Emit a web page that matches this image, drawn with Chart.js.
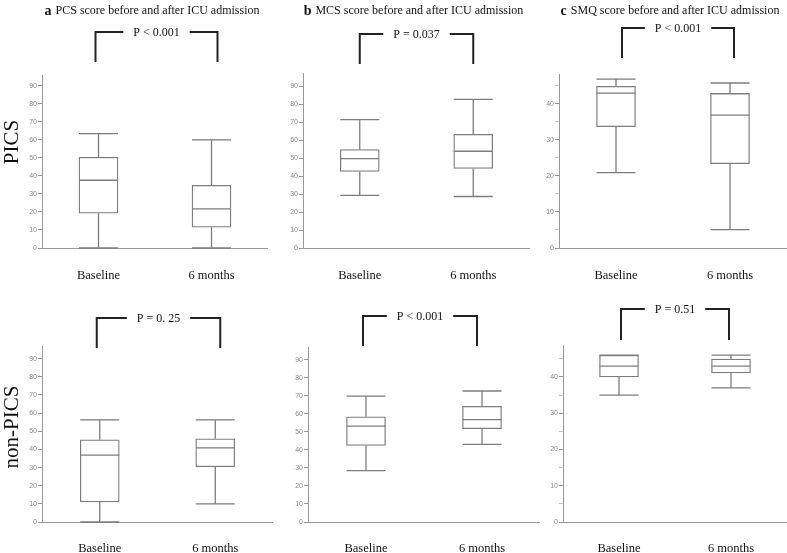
<!DOCTYPE html>
<html lang="en">
<head>
<meta charset="UTF-8">
<title>PCS, MCS and SMQ scores before and after ICU admission</title>
<script src="https://cdn.jsdelivr.net/npm/chart.js"></script>
<style>
    body {
        margin: 0;
        background: #fff;
        width: 787px;
        height: 553px;
        overflow: hidden;
        position: relative;
    }
    .panel {
        position: absolute;
    }
</style>
</head>
<body>
<div class="panel" style="left:0;top:0;width:268px;height:285px"><canvas id="pa"></canvas></div>
<div class="panel" style="left:265px;top:0;width:265px;height:285px"><canvas id="pb"></canvas></div>
<div class="panel" style="left:530px;top:0;width:257px;height:285px"><canvas id="pc"></canvas></div>
<div class="panel" style="left:0;top:275px;width:273px;height:278px"><canvas id="pd"></canvas></div>
<div class="panel" style="left:265px;top:275px;width:275px;height:278px"><canvas id="pe"></canvas></div>
<div class="panel" style="left:530px;top:275px;width:257px;height:278px"><canvas id="pf"></canvas></div>

<script>
// groups on the x axis
const groups = ['Baseline', '6 months'];

// box stats per group: [min, q1, median, q3, max]
const pcsPics    = [[0, 19.3, 37.6, 50.4, 63.5], [0, 11.5, 21.7, 34.8, 60]];
const mcsPics    = [[29.3, 42.6, 49.8, 54.8, 71.5], [28.7, 44.3, 53.9, 63.3, 82.8]];
const smqPics    = [[20.9, 33.7, 43, 44.9, 46.9], [5.1, 23.4, 36.9, 42.9, 45.8]];
const pcsNonPics = [[0, 11.1, 36.9, 45.3, 56.3], [10, 30.4, 40.9, 45.9, 56.3]];
const mcsNonPics = [[28.5, 42.4, 53.1, 58.3, 69.8], [43, 51.7, 56.8, 64.1, 72.6]];
const smqNonPics = [[35, 40, 43, 46, 46], [37, 41.1, 43, 44.9, 46]];

// p values shown above each pair
const pValues = ['P < 0.001', 'P = 0.037', 'P < 0.001', 'P = 0. 25', 'P < 0.001', 'P = 0.51'];

const panelLetters = ['a', 'b', 'c'];
const panelTitles = [
    'PCS score before and after ICU admission',
    'MCS score before and after ICU admission',
    'SMQ score before and after ICU admission'
];
const rowLabels = ['PICS', 'non-PICS'];

const serif = "'Liberation Serif', 'Times New Roman', serif";
const lineGrey = '#7d7d7d';

const boxPlugin = {
    id: 'boxes',
    afterDatasetsDraw(chart, args, opts) {
        const ctx = chart.ctx;
        const y = chart.scales.y;
        const meta = chart.getDatasetMeta(0);
        ctx.save();
        ctx.strokeStyle = lineGrey;
        ctx.lineWidth = 1.3;
        opts.stats.forEach((s, i) => {
            const bar = meta.data[i];
            const x = bar.x;
            const half = bar.width / 2;
            const pMin = y.getPixelForValue(s[0]);
            const pQ1 = y.getPixelForValue(s[1]);
            const pMed = y.getPixelForValue(s[2]);
            const pQ3 = y.getPixelForValue(s[3]);
            const pMax = y.getPixelForValue(s[4]);
            ctx.beginPath();
            ctx.moveTo(x, pQ1); ctx.lineTo(x, pMin);
            ctx.moveTo(x - half, pMin); ctx.lineTo(x + half, pMin);
            ctx.moveTo(x, pQ3); ctx.lineTo(x, pMax);
            ctx.moveTo(x - half, pMax); ctx.lineTo(x + half, pMax);
            ctx.moveTo(x - half, pMed); ctx.lineTo(x + half, pMed);
            ctx.stroke();
        });
        ctx.restore();
    },
    afterDraw(chart, args, opts) {
        const ctx = chart.ctx;
        const xs = chart.scales.x;
        const area = chart.chartArea;
        ctx.save();

        // panel title
        if (opts.title) {
            ctx.textBaseline = 'middle';
            ctx.fillStyle = '#111';
            ctx.font = 'bold 14px ' + serif;
            const wl = ctx.measureText(opts.letter).width;
            ctx.font = '12px ' + serif;
            const wt = ctx.measureText(opts.title).width;
            const start = (area.left + area.right) / 2 - 3 - (wl + 4 + wt) / 2;
            ctx.font = 'bold 14px ' + serif;
            ctx.textAlign = 'left';
            ctx.fillText(opts.letter, start, 11);
            ctx.font = '12px ' + serif;
            ctx.fillText(opts.title, start + wl + 4, 11);
        }

        // row label
        if (opts.rowLabel) {
            ctx.save();
            ctx.translate(12, opts.rowLabelY);
            ctx.rotate(-Math.PI / 2);
            ctx.font = '21px ' + serif;
            ctx.fillStyle = '#111';
            ctx.textAlign = 'center';
            ctx.textBaseline = 'middle';
            ctx.fillText(opts.rowLabel, 0, 0);
            ctx.restore();
        }

        // significance bracket
        const xl = xs.getPixelForValue(0) + opts.bracketShift[0];
        const xr = xs.getPixelForValue(1) + opts.bracketShift[1];
        const top = opts.bracket[0];
        const bottom = opts.bracket[1];
        const mid = (xl + xr) / 2;
        ctx.font = '12px ' + serif;
        const tw = ctx.measureText(opts.p).width;
        ctx.strokeStyle = '#222';
        ctx.lineWidth = 2;
        ctx.beginPath();
        ctx.moveTo(xl, bottom); ctx.lineTo(xl, top); ctx.lineTo(mid - tw / 2 - 10, top);
        ctx.moveTo(mid + tw / 2 + 10, top); ctx.lineTo(xr, top); ctx.lineTo(xr, bottom);
        ctx.stroke();
        ctx.fillStyle = '#111';
        ctx.textAlign = 'center';
        ctx.textBaseline = 'middle';
        ctx.fillText(opts.p, mid, top + 1);
        ctx.restore();
    }
};

function makeChart(id, stats, cfg) {
    const minor = cfg.step === 5;
    return new Chart(document.getElementById(id), {
        type: 'bar',
        data: {
            labels: groups,
            datasets: [{
                data: stats.map(s => [s[1], s[3]]),
                backgroundColor: '#fff',
                borderColor: lineGrey,
                borderWidth: 1.3,
                borderSkipped: false,
                barThickness: 39
            }]
        },
        options: {
            responsive: true,
            maintainAspectRatio: false,
            animation: false,
            events: [],
            layout: { padding: { top: cfg.areaTop, left: 0, right: 0, bottom: 0 } },
            plugins: {
                legend: { display: false },
                tooltip: { enabled: false },
                boxes: {
                    stats: stats,
                    p: cfg.p,
                    bracket: cfg.bracket,
                    bracketShift: cfg.bracketShift || [0, 0],
                    title: cfg.title,
                    letter: cfg.letter,
                    rowLabel: cfg.rowLabel,
                    rowLabelY: cfg.rowLabelY
                }
            },
            scales: {
                x: {
                    offset: true,
                    grid: { display: false },
                    border: { display: true, color: '#999', width: 1 },
                    ticks: {
                        color: '#111',
                        padding: cfg.xPad,
                        font: { family: serif, size: 12.5 }
                    },
                    afterFit: s => { s.height = cfg.xHeight; }
                },
                y: {
                    min: 0,
                    max: cfg.max,
                    grid: {
                        drawOnChartArea: false,
                        drawTicks: true,
                        tickLength: 4,
                        tickColor: c => (minor && c.tick && c.tick.value % 10 !== 0) ? '#c8c8c8' : '#999'
                    },
                    border: { display: true, color: '#999', width: 1 },
                    ticks: {
                        stepSize: cfg.step,
                        includeBounds: false,
                        autoSkip: false,
                        padding: 1,
                        color: '#8a8a8a',
                        font: { family: "'Liberation Sans', Arial, sans-serif", size: 7 },
                        callback: v => v % 10 === 0 ? v : ''
                    },
                    afterFit: s => { s.width = cfg.yWidth; }
                }
            }
        },
        plugins: [boxPlugin]
    });
}

// top row: PICS
makeChart('pa', pcsPics, { areaTop: 75, xHeight: 37, xPad: 12, yWidth: 42, max: 96, step: 10,
    p: pValues[0], bracket: [32, 62], bracketShift: [-3, 6], title: panelTitles[0], letter: panelLetters[0],
    rowLabel: rowLabels[0], rowLabelY: 142 });
makeChart('pb', mcsPics, { areaTop: 73, xHeight: 37, xPad: 12, yWidth: 38, max: 97.5, step: 10,
    p: pValues[1], bracket: [34, 64], title: panelTitles[1], letter: panelLetters[1] });
makeChart('pc', smqPics, { areaTop: 74, xHeight: 37, xPad: 12, yWidth: 29, max: 48.3, step: 5,
    p: pValues[2], bracket: [28, 58], bracketShift: [6, 4], title: panelTitles[2], letter: panelLetters[2] });

// bottom row: non-PICS
makeChart('pd', pcsNonPics, { areaTop: 71, xHeight: 31, xPad: 11, yWidth: 42, max: 97, step: 10,
    p: pValues[3], bracket: [43, 73], bracketShift: [-3, 5],
    rowLabel: rowLabels[1], rowLabelY: 152 });
makeChart('pe', mcsNonPics, { areaTop: 72, xHeight: 31, xPad: 11, yWidth: 43, max: 97, step: 10,
    p: pValues[4], bracket: [41, 71], bracketShift: [-3, -5] });
makeChart('pf', smqNonPics, { areaTop: 70, xHeight: 31, xPad: 11, yWidth: 33, max: 48.8, step: 5,
    p: pValues[5], bracket: [34, 65], bracketShift: [2, -2] });
</script>
</body>
</html>
